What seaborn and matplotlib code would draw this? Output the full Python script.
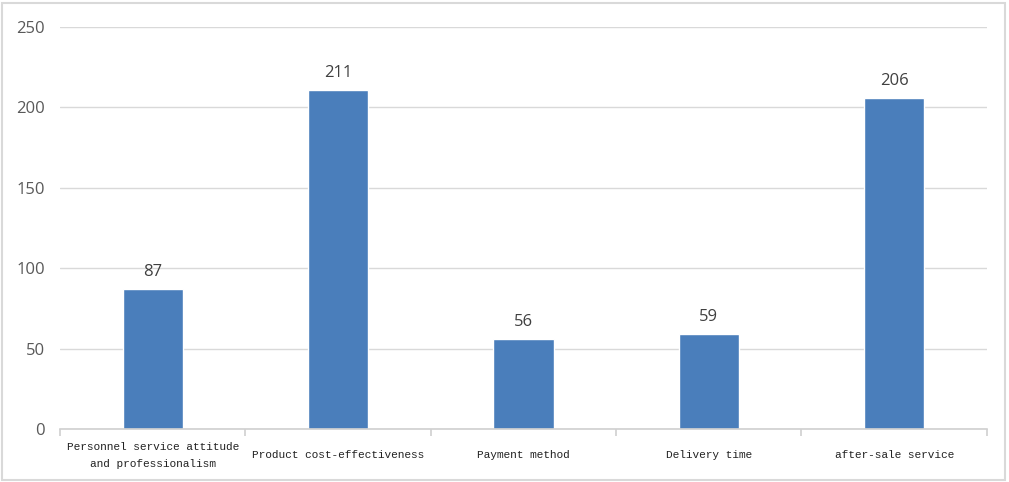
import matplotlib
matplotlib.use("Agg")
import matplotlib.pyplot as plt
from matplotlib.patches import Rectangle
import seaborn as sns
import pandas as pd
import numpy as np

categories = [
    "Personnel service attitude\nand professionalism",
    "Product cost-effectiveness",
    "Payment method",
    "Delivery time",
    "after-sale service",
]
counts = [87, 211, 56, 59, 206]
y_ticks = [0, 50, 100, 150, 200, 250]

df = pd.DataFrame({"category": categories, "count": counts})

sns.set_theme(style="white")
fig = plt.figure(figsize=(10.09, 4.82), dpi=100)
ax = fig.add_axes([0.0595, 0.110, 0.9185, 0.834])

sns.barplot(data=df, x="category", y="count", color="#4a7ebb", saturation=1,
            width=0.325, ax=ax)

ax.set_ylim(0, 250)
ax.set_xlim(-0.5, len(categories) - 0.5)
ax.set_yticks(y_ticks)
ax.yaxis.grid(True, color="#d9d9d9", linewidth=1)
ax.set_axisbelow(True)
for side in ["left", "right", "top"]:
    ax.spines[side].set_visible(False)
ax.spines["bottom"].set_color("#d0d0d0")
ax.spines["bottom"].set_linewidth(1.2)

ax.set_xlabel("")
ax.set_ylabel("")
ax.tick_params(axis="y", length=0, pad=11, labelsize=12, labelcolor="#595959")
ax.tick_params(axis="x", which="major", bottom=True, length=0, pad=19)
# boundary ticks between categories
ax.set_xticks(np.arange(-0.5, len(categories)), minor=True)
ax.tick_params(axis="x", which="minor", bottom=True, length=5,
               color="#d0d0d0", width=1.2)
for lbl in ax.get_xticklabels():
    lbl.set_fontfamily("Liberation Mono")
    lbl.set_fontsize(8)
    lbl.set_color("#222222")
    lbl.set_linespacing(1.95)
    lbl.set_horizontalalignment("center")
    lbl.set_multialignment("center")
    lbl.set_verticalalignment("center")
for lbl in ax.get_yticklabels():
    lbl.set_fontfamily("Open Sans")

for container in ax.containers:
    ax.bar_label(container, labels=[str(v) for v in counts], padding=6.5,
                 fontsize=12, color="#404040", fontfamily="Open Sans")

fig.patches.append(Rectangle((0.002, 0.004), 0.994, 0.99, transform=fig.transFigure,
                             fill=False, edgecolor="#d9d9d9", linewidth=1.5))

fig.savefig("out.png", dpi=100, facecolor="white")
